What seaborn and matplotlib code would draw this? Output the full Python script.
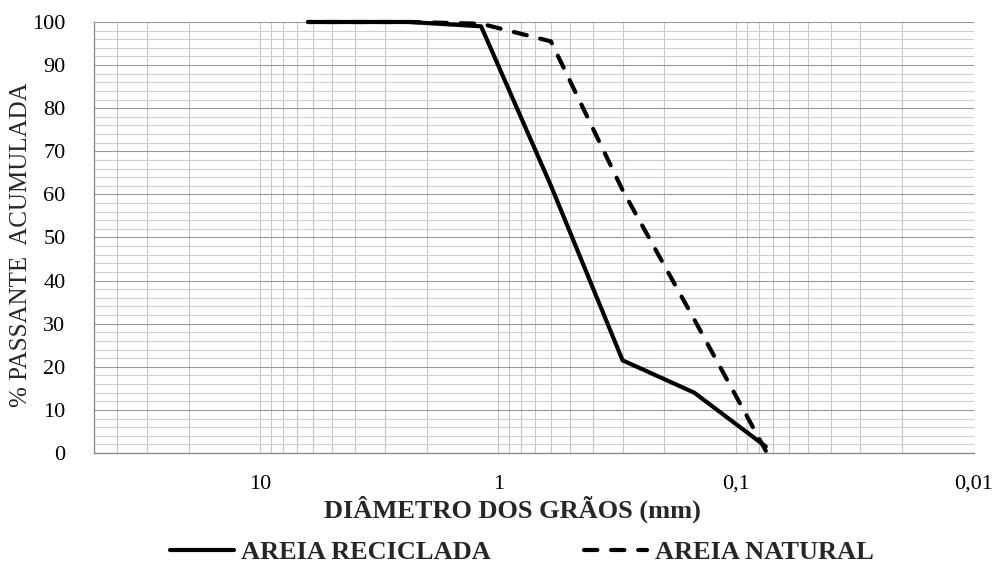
import numpy as np
import pandas as pd
import seaborn as sns
import matplotlib
matplotlib.use("Agg")
import matplotlib.pyplot as plt
from matplotlib.ticker import LogLocator, MultipleLocator, FixedLocator, FixedFormatter, NullFormatter

# ── dados ───────────────────────────────────────────────────────────────────
diametro = [6.3, 4.75, 2.36, 1.18, 0.6, 0.3, 0.15, 0.075]        # mm
areia_reciclada = [100, 100, 100, 99, 62, 21.5, 14, 1.5]          # % passante
areia_natural = [100, 100, 100, 99.6, 95.5, 61, 31, 0.5]          # % passante

x_ticks = [10, 1, 0.1, 0.01]
x_tick_labels = ["10", "1", "0,1", "0,01"]
y_ticks = list(range(0, 101, 10))

sns.set_theme(style="white")
plt.rcParams["font.family"] = ["Liberation Serif", "DejaVu Serif"]

df_rec = pd.DataFrame({"d": diametro, "p": areia_reciclada})
df_nat = pd.DataFrame({"d": diametro, "p": areia_natural})

fig = plt.figure(figsize=(9.98, 5.70), dpi=100)
ax = fig.add_axes([94 / 998, 1 - 453 / 570, (974 - 94) / 998, (453 - 22) / 570])

sns.lineplot(data=df_rec, x="d", y="p", ax=ax, color="black", linewidth=3.0,
             solid_capstyle="round", solid_joinstyle="round", clip_on=False,
             label="AREIA RECICLADA", zorder=5)
sns.lineplot(data=df_nat, x="d", y="p", ax=ax, color="black", linewidth=3.0,
             linestyle=(0, (3.2, 3.3)), dash_capstyle="round", clip_on=False,
             label="AREIA NATURAL", zorder=5)

ax.set_xscale("log")
ax.set_xlim(50, 0.01)
ax.set_ylim(0, 100)

# grade
ax.xaxis.set_major_locator(FixedLocator(x_ticks))
ax.xaxis.set_major_formatter(FixedFormatter(x_tick_labels))
ax.xaxis.set_minor_locator(LogLocator(base=10, subs=np.arange(2, 10)))
ax.xaxis.set_minor_formatter(NullFormatter())
ax.yaxis.set_major_locator(FixedLocator(y_ticks))
ax.yaxis.set_minor_locator(MultipleLocator(2))

ax.yaxis.grid(True, which="major", color="#999999", linewidth=0.8)
ax.yaxis.grid(True, which="minor", color="#cfcfcf", linewidth=0.8)
ax.xaxis.grid(True, which="both", color="#c8c8c8", linewidth=0.8)
ax.set_axisbelow(True)

for s in ["top", "right"]:
    ax.spines[s].set_visible(False)
for s in ["left", "bottom"]:
    ax.spines[s].set_color("#868686")
    ax.spines[s].set_linewidth(0.9)

ax.tick_params(axis="both", which="major", direction="out", length=5.5,
               width=0.9, color="#868686", labelsize=16, labelcolor="black")
ax.tick_params(axis="both", which="minor", length=0)
ax.tick_params(axis="x", which="major", pad=10)
ax.tick_params(axis="y", which="major", pad=15)

ax.set_xlabel("")
ax.set_ylabel("% PASSANTE  ACUMULADA", fontsize=18)
ax.yaxis.set_label_coords(-62 / 880, 0.483)

fig.text(512 / 998, 1 - 509 / 570, "DIÂMETRO DOS GRÃOS (mm)", ha="center",
         va="center", fontsize=19, fontweight="bold")

ax.get_legend().remove()
handles, labels = ax.get_legend_handles_labels()
fig.legend(handles, labels, loc="center", bbox_to_anchor=(522 / 998, 1 - 552 / 570),
           ncol=2, frameon=False, handlelength=2.4, handletextpad=0.3,
           columnspacing=3.5, borderpad=0.2, prop={"weight": "bold", "size": 19})

fig.savefig("out.png", dpi=100)
